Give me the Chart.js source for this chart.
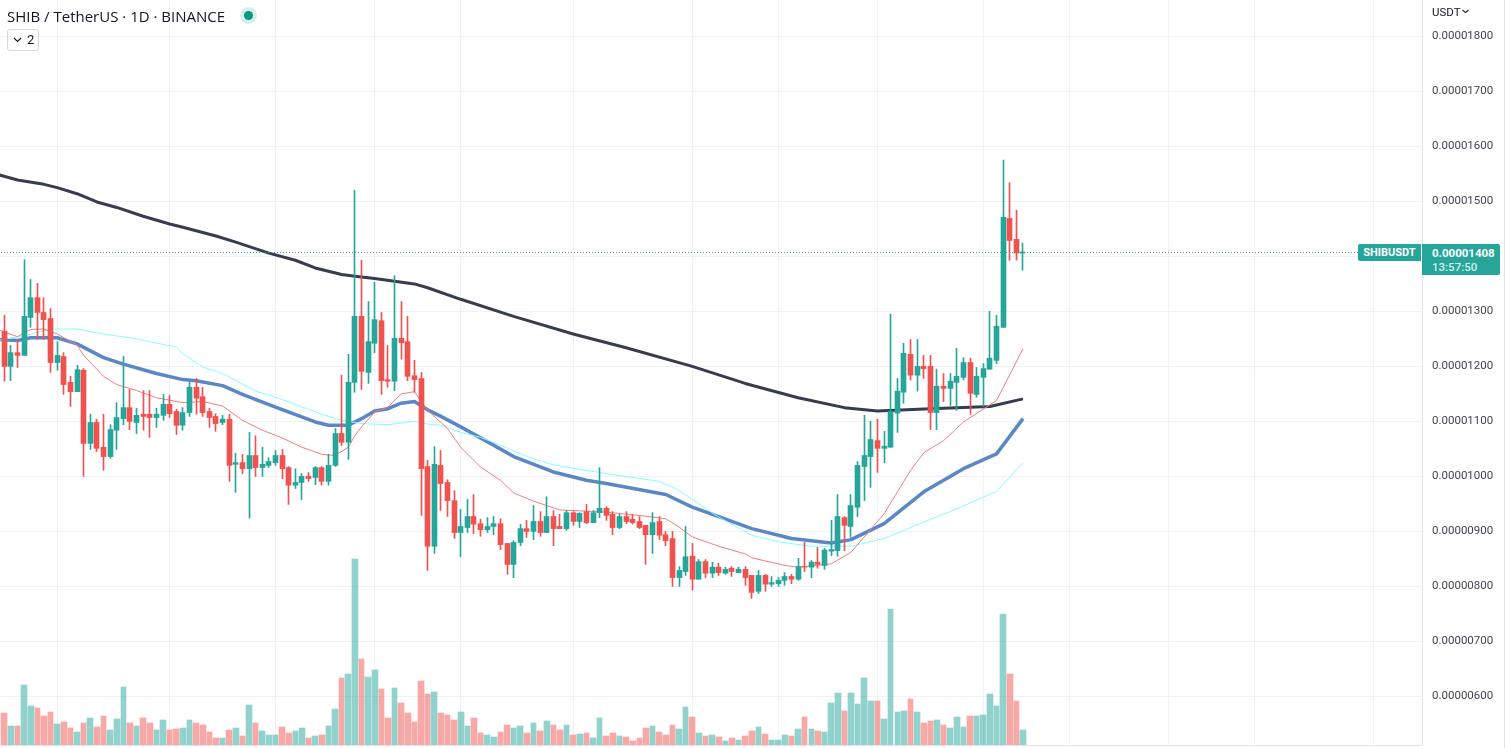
<!DOCTYPE html>
<html>
<head>
<meta charset="utf-8">
<title>SHIB / TetherUS</title>
<script src="https://cdn.jsdelivr.net/npm/chart.js@4/dist/chart.umd.min.js"></script>
<style>
  html, body { margin: 0; padding: 0; background: #fff; overflow: hidden; }
  #wrap { position: relative; width: 1505px; height: 748px; font-family: Roboto, sans-serif; }
  #wrap div { position: absolute; white-space: nowrap; }
  #wrap svg { display: block; }
  canvas { position: absolute; left: 0; top: 0; }
  #title { left: 7px; top: 7px; font-family: "Open Sans", sans-serif; font-size: 15px; line-height: 18px; color: #131722; }
  #halo { left: 240px; top: 7px; width: 17px; height: 17px; border-radius: 50%; background: #d9efeb; }
  #dot { left: 244px; top: 11px; width: 9px; height: 9px; border-radius: 50%; background: #089981; }
  #legendBtn { left: 7px; top: 29px; width: 30px; height: 20px; border: 1px solid #d6d8e0; border-radius: 3px; font-size: 13px; line-height: 20px; color: #131722; }
  #legendBtn span { position: absolute; left: 19px; top: 0; }
  #legendBtn svg { position: absolute; left: 5px; top: 7px; }
  #currency { left: 1432px; top: 5px; font-size: 11.5px; line-height: 14px; color: #131722; }
  #currencyArrow { left: 1462px; top: 9px; }
  #symbolTag { left: 1358px; top: 244px; width: 63px; height: 17px; background: #26a69a; border-radius: 2px 0 0 2px; color: #fff; font-size: 11px; font-weight: 700; line-height: 17px; text-align: center; }
  #priceTag { left: 1422px; top: 244px; width: 78px; height: 31px; background: #26a69a; border-radius: 0 2px 2px 0; }
  #priceNow { left: 10px; top: 2px; color: #fff; font-size: 11.5px; font-weight: 700; line-height: 14px; }
  #countdown { left: 10px; top: 16px; color: #d4eeeb; font-size: 11.5px; font-weight: 500; line-height: 14px; }
  #edge { left: 1504px; top: 0; width: 1px; height: 748px; background: #e0e3eb; }
</style>
</head>
<body>
<div id="wrap">
  <canvas id="shib-chart" width="1505" height="748"></canvas>
  <div id="title">SHIB / TetherUS · 1D · BINANCE</div>
  <div id="halo"></div>
  <div id="dot"></div>
  <div id="legendBtn">
    <svg width="9" height="6" viewBox="0 0 9 6"><path d="M1 1l3.5 3.5L8 1" fill="none" stroke="#131722" stroke-width="1.2"/></svg>
    <span>2</span>
  </div>
  <div id="currency">USDT</div>
  <div id="currencyArrow"><svg width="7" height="5" viewBox="0 0 7 5"><path d="M.5 1l3 2.6L6.500 1" fill="none" stroke="#131722" stroke-width="1.1"/></svg></div>
  <div id="symbolTag">SHIBUSDT</div>
  <div id="priceTag">
    <div id="priceNow">0.00001408</div>
    <div id="countdown">13:57:50</div>
  </div>
  <div id="edge"></div>
</div>

<script>
// prices are in units of 0.00000001 USDT
const priceUnit = 1e-8;

const opens = [
  1264,1200,1225,1220,1289,1325,1298,1287,1207,1218,
  1171,1154,1193,1060,1098,1053,1036,1084,1105,1125,
  1098,1113,1113,1107,1111,1131,1118,1093,1116,1162,
  1145,1118,1109,1098,1104,1022,1025,1014,1038,1016,
  1020,1025,1038,1016,984,989,1000,998,1016,991,
  1020,1078,1062,1171,1291,1189,1242,1283,1176,1173,
  1251,1245,1183,1178,1018,873,1020,989,956,898,
  907,927,914,903,909,914,878,840,880,905,
  900,918,898,927,909,905,934,918,936,916,
  934,942,931,907,927,922,918,911,894,918,
  894,887,816,827,855,813,845,824,835,824,
  833,825,831,820,791,820,804,805,811,818,
  813,836,835,844,838,864,865,925,909,944,
  1018,1036,1065,1051,1053,1115,1153,1222,1184,1200,
  1200,1116,1164,1160,1171,1180,1207,1149,1180,1195,
  1211,1271,1469,1431,1406
];
const highs = [
  1293,1238,1248,1394,1358,1351,1325,1305,1245,1225,
  1182,1202,1196,1113,1104,1113,1094,1134,1218,1158,
  1124,1156,1156,1124,1149,1147,1122,1125,1171,1178,
  1162,1124,1114,1111,1113,1042,1040,1080,1074,1053,
  1034,1047,1049,1018,1014,1005,1007,1018,1018,1040,
  1087,1184,1222,1520,1393,1318,1353,1298,1238,1365,
  1318,1291,1211,1189,1029,1054,1047,994,974,940,
  958,967,922,925,927,923,878,883,913,920,
  947,936,963,938,931,938,936,934,949,938,
  1016,945,936,931,936,931,927,911,934,927,
  900,900,836,909,878,849,849,844,842,835,
  836,835,836,820,829,822,818,816,825,822,
  851,880,847,871,869,920,967,927,967,1027,
  1111,1100,1104,1082,1295,1178,1242,1249,1249,1220,
  1220,1195,1187,1187,1233,1216,1215,1198,1205,1300,
  1293,1575,1534,1484,1424
];
const lows = [
  1173,1174,1198,1220,1271,1249,1249,1189,1193,1149,
  1127,1154,1000,1049,1045,1011,1033,1049,1094,1085,
  1078,1084,1071,1089,1102,1107,1076,1084,1109,1113,
  1109,1089,1082,1094,991,971,1005,924,1000,1000,
  1016,1020,996,949,978,958,991,985,984,984,
  1018,1056,1031,1153,1158,1169,1225,1149,1162,1156,
  1213,1174,1153,929,829,860,938,927,887,854,
  898,896,891,898,894,867,822,816,874,889,
  885,891,898,874,905,902,911,907,914,916,
  925,920,894,905,914,913,905,840,860,885,
  874,800,800,820,793,813,816,816,820,822,
  818,825,802,778,787,791,800,800,802,805,
  811,827,816,833,831,856,855,865,889,927,
  956,980,1007,1025,1053,1080,1133,1175,1155,1178,
  1085,1085,1136,1129,1120,1175,1113,1144,1127,1195,
  1205,1271,1393,1393,1375
];
const closes = [
  1200,1225,1220,1291,1325,1298,1285,1207,1220,1167,
  1154,1194,1060,1098,1051,1036,1085,1107,1125,1100,
  1111,1109,1107,1113,1131,1114,1093,1116,1162,1142,
  1116,1107,1096,1104,1020,1025,1014,1038,1016,1022,
  1027,1038,1014,984,989,1000,996,1016,991,1020,
  1078,1062,1171,1291,1191,1245,1285,1174,1173,1251,
  1243,1182,1176,1014,873,1022,987,956,898,909,
  927,913,903,909,914,876,840,880,905,900,
  918,898,927,905,905,934,918,933,916,934,
  942,929,907,927,918,916,907,894,916,893,
  883,816,829,854,813,845,824,835,825,831,
  827,831,816,789,820,804,807,811,818,813,
  836,835,844,840,866,867,927,911,947,1020,
  1038,1067,1051,1055,1118,1155,1224,1184,1200,1196,
  1116,1164,1160,1173,1182,1207,1151,1182,1196,1215,
  1273,1471,1429,1406,1408
];
// relative volume, peak bar = 186
const volumes = [
  32,19,19,60,39,37,29,33,21,23,
  17,13,22,27,18,29,15,26,58,22,
  19,27,22,15,25,15,16,17,25,22,
  20,13,7,7,15,17,9,40,22,14,
  10,10,18,12,14,17,7,9,10,19,
  36,67,71,186,86,68,75,56,27,57,
  42,32,23,64,51,53,32,30,25,33,
  19,27,12,10,8,13,20,17,19,12,
  22,14,24,20,15,20,10,11,12,7,
  27,9,12,9,8,4,7,17,19,13,
  10,20,16,38,28,12,9,10,8,4,
  7,5,9,14,18,11,5,5,10,9,
  16,28,16,14,13,42,52,34,52,41,
  67,44,44,26,136,33,34,46,33,22,
  24,25,20,17,28,18,29,29,30,51,
  39,131,71,44,15
];

const ma200Bars = [-1,2,6,8,11,14,17,21,25,27,32,35,40,44,47,51,53,56,62,64,69,77,86,94,104,112,120,127,132,140,149,154];
const ma200Vals = [1549,1539,1531,1525,1514,1499,1489,1473,1459,1453,1437,1426,1406,1393,1379,1367,1364,1360,1350,1343,1322,1291,1259,1234,1200,1169,1143,1125,1119,1123,1127,1141];

const ma50Bars = [-1,2,4,8,11,15,18,23,27,29,33,36,41,47,49,52,54,56,58,60,62,64,66,69,72,77,83,88,91,100,104,108,113,119,125,128,133,139,145,150,154];
const ma50Vals = [1249,1247,1252,1252,1241,1216,1204,1187,1176,1174,1165,1149,1126,1099,1093,1093,1105,1119,1123,1133,1136,1121,1109,1090,1070,1036,1008,993,987,967,944,927,905,887,879,885,914,972,1014,1041,1105];

const ma100Bars = [-1,3,6,8,11,15,20,26,27,30,33,38,41,48,50,52,54,58,62,64,66,69,72,75,79,83,91,99,102,105,108,113,117,122,128,133,139,144,150,154];
const ma100Vals = [1247,1256,1265,1268,1268,1259,1250,1235,1223,1199,1187,1155,1144,1113,1105,1100,1096,1094,1100,1095,1093,1080,1071,1057,1036,1021,1005,991,975,950,926,893,881,873,873,887,917,941,973,1025];

const ma20Bars = [-1,2,4,6,8,11,12,15,17,20,23,27,30,33,36,39,42,45,48,50,52,53,54,56,58,60,62,64,67,69,72,75,77,80,84,91,96,100,102,104,108,112,113,118,120,125,128,133,137,139,142,145,150,154];
const ma20Vals = [1267,1254,1267,1268,1259,1239,1220,1182,1167,1156,1143,1134,1136,1128,1102,1084,1070,1053,1040,1038,1053,1074,1090,1117,1126,1150,1154,1120,1087,1053,1017,993,970,955,939,935,929,923,908,890,873,859,852,838,835,841,862,932,1011,1043,1065,1099,1138,1232];

const lastPrice = 1408;
const priceTicks = [600,700,800,900,1000,1100,1200,1300,1400,1500,1600,1700,1800];
const timeGridBars = [8,25,41,56,69,86,104,117,132,148,161,176,189,207];

const upColor = "#26a69a";
const downColor = "#ef5350";
const upVolColor = "rgba(38,166,154,0.5)";
const downVolColor = "rgba(239,83,80,0.5)";

function toPoints(xs, ys) {
  return xs.map((x, i) => ({ x: x, y: ys[i] }));
}

const bars = opens.map((o, i) => i);
const barColors = opens.map((o, i) => (closes[i] >= o ? upColor : downColor));
const volColors = opens.map((o, i) => (closes[i] >= o ? upVolColor : downVolColor));

function lineSet(xs, ys, color, width, order) {
  return {
    type: "line",
    data: toPoints(xs, ys),
    borderColor: color,
    borderWidth: width,
    borderJoinStyle: "round",
    tension: 0,
    pointRadius: 0,
    yAxisID: "y",
    order: order,
  };
}

// snaps bars to whole pixels so they are crisp like the original
const snapPlugin = {
  id: "snap",
  afterDatasetsUpdate(chart) {
    chart.data.datasets.forEach((ds, index) => {
      const meta = chart.getDatasetMeta(index);
      if (ds.snapWidth) {
        meta.data.forEach((el) => {
          if (ds.snapWidth === 5.6) {
            const l = Math.round(el.x - 2.8);
            const r = Math.round(el.x + 2.8);
            el.x = (l + r) / 2;
            el.width = r - l;
          } else {
            el.x = Math.floor(el.x) + 0.5;
            el.width = ds.snapWidth;
          }
        });
      }
      if (ds.snapLine) {
        meta.data.forEach((el) => {
          el.x = Math.round(el.x);
          el.y = Math.round(el.y) + 0.5;
        });
      }
    });
  },
};

const shibChart = new Chart(document.getElementById("shib-chart"), {
  type: "bar",
  plugins: [snapPlugin],
  data: {
    datasets: [
      {
        label: "price",
        type: "line",
        data: toPoints([-1, 204.6], [lastPrice, lastPrice]),
        borderColor: upColor,
        borderWidth: 1,
        borderDash: [1, 2],
        pointRadius: 0,
        yAxisID: "y",
        order: 0,
        snapLine: true,
      },
      {
        label: "body",
        data: bars.map((i) => ({ x: i, y: [opens[i], closes[i]] })),
        backgroundColor: barColors,
        barThickness: 5,
        grouped: false,
        yAxisID: "y",
        order: 1,
        snapWidth: 5,
      },
      {
        label: "wick",
        data: bars.map((i) => ({ x: i, y: [lows[i], highs[i]] })),
        backgroundColor: barColors,
        barThickness: 1,
        grouped: false,
        yAxisID: "y",
        order: 2,
        snapWidth: 1,
      },
      lineSet(ma20Bars, ma20Vals, "#f47c7c", 1, 3),
      lineSet(ma100Bars, ma100Vals, "#84fdff", 1, 4),
      lineSet(ma50Bars, ma50Vals, "#5b87c7", 3.5, 5),
      lineSet(ma200Bars, ma200Vals, "#363d4f", 3, 6),
      {
        label: "volume",
        data: bars.map((i) => ({ x: i, y: volumes[i] })),
        backgroundColor: volColors,
        barThickness: 6,
        grouped: false,
        yAxisID: "yVol",
        order: 7,
        snapWidth: 5.6,
      },
    ],
  },
  options: {
    responsive: false,
    animation: false,
    events: [],
    layout: { padding: 0, autoPadding: false },
    plugins: {
      legend: { display: false },
      tooltip: { enabled: false },
    },
    scales: {
      x: {
        type: "linear",
        offset: false,
        min: -0.6485,
        max: 214.32,
        afterBuildTicks: (scale) => {
          scale.ticks = timeGridBars.map((v) => ({ value: v }));
        },
        afterFit: (scale) => {
          scale.height = 3;
          scale.paddingLeft = 0;
          scale.paddingRight = 0;
        },
        ticks: { display: false },
        grid: { color: "#f0f2f6", drawTicks: false, offset: false },
        border: { color: "#e0e3eb" },
      },
      y: {
        type: "linear",
        position: "right",
        offset: false,
        min: 511.6,
        max: 1866.18,
        afterBuildTicks: (scale) => {
          scale.ticks = priceTicks.map((v) => ({ value: v }));
        },
        afterFit: (scale) => {
          scale.width = 83;
          scale.paddingTop = 0;
          scale.paddingBottom = 0;
        },
        ticks: {
          padding: 10,
          color: "#434651",
          font: { family: "Roboto", size: 11.5 },
          callback: (value) => (value * priceUnit).toFixed(8),
        },
        grid: { color: "#f0f2f6", drawTicks: false },
        border: { color: "#e0e3eb" },
      },
      yVol: {
        type: "linear",
        display: false,
        offset: false,
        min: 0,
        max: 745,
      },
    },
  },
});
</script>
</body>
</html>
